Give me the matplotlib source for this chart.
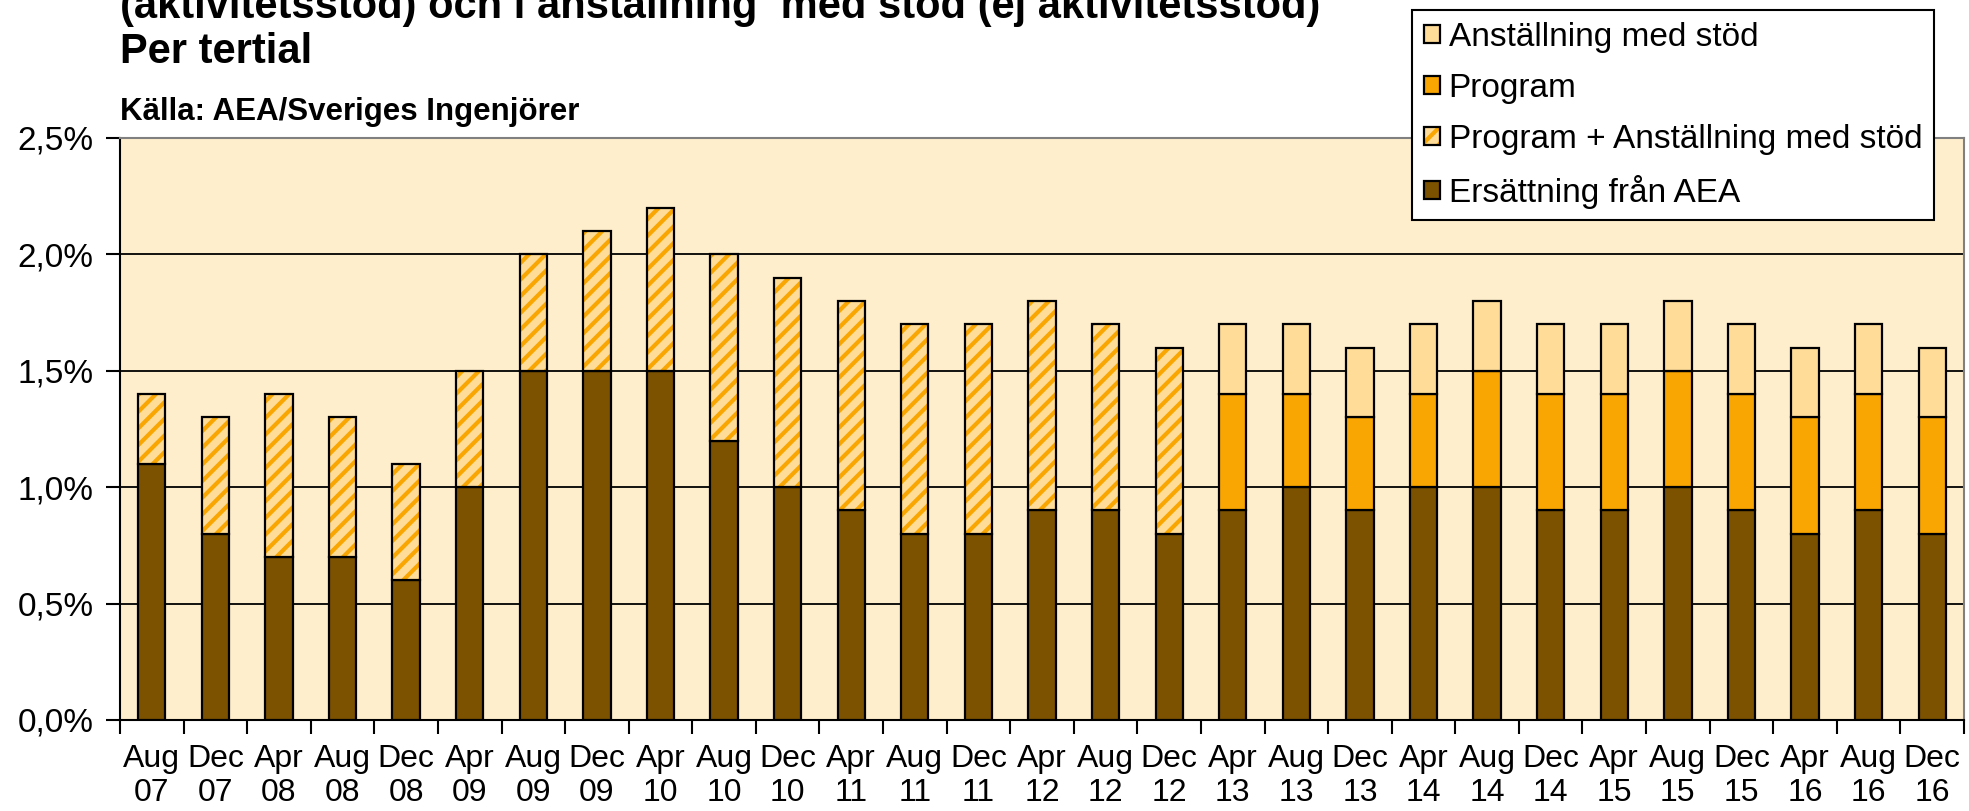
import numpy as np
import matplotlib.pyplot as plt

plt.rcParams['font.family'] = ['Liberation Sans', 'DejaVu Sans']
plt.rcParams['hatch.linewidth'] = 3.0

# Data (andel, %)
Perioder = ['Aug\n07', 'Dec\n07', 'Apr\n08', 'Aug\n08', 'Dec\n08', 'Apr\n09', 'Aug\n09', 'Dec\n09',
            'Apr\n10', 'Aug\n10', 'Dec\n10', 'Apr\n11', 'Aug\n11', 'Dec\n11', 'Apr\n12', 'Aug\n12',
            'Dec\n12', 'Apr\n13', 'Aug\n13', 'Dec\n13', 'Apr\n14', 'Aug\n14', 'Dec\n14', 'Apr\n15',
            'Aug\n15', 'Dec\n15', 'Apr\n16', 'Aug\n16', 'Dec\n16']
Ersattning_AEA = [1.1, 0.8, 0.7, 0.7, 0.6, 1.0, 1.5, 1.5, 1.5, 1.2, 1.0, 0.9, 0.8, 0.8, 0.9, 0.9,
                  0.8, 0.9, 1.0, 0.9, 1.0, 1.0, 0.9, 0.9, 1.0, 0.9, 0.8, 0.9, 0.8]
# Program + Anställning med stöd (Aug 07 - Dec 12)
Program_Anst = [0.3, 0.5, 0.7, 0.6, 0.5, 0.5, 0.5, 0.6, 0.7, 0.8, 0.9, 0.9, 0.9, 0.9, 0.9, 0.8, 0.8]
# Separata serier (Apr 13 - Dec 16)
Program = [0.5, 0.4, 0.4, 0.4, 0.5, 0.5, 0.5, 0.5, 0.5, 0.5, 0.5, 0.5]
Anstallning = [0.3, 0.3, 0.3, 0.3, 0.3, 0.3, 0.3, 0.3, 0.3, 0.3, 0.3, 0.3]

YTicks = [0.0, 0.5, 1.0, 1.5, 2.0, 2.5]
YLabels = ['0,0%', '0,5%', '1,0%', '1,5%', '2,0%', '2,5%']

C_AEA = '#7C5200'
C_Prog = '#F9A602'
C_Anst = '#FFDD99'
C_Bg = '#FFEECC'

# Positions
N = len(Perioder)
X = np.arange(N)
N1 = len(Program_Anst)
X1 = X[:N1]
X2 = X[N1:]
AEA = np.array(Ersattning_AEA)
Width = 0.43

Figure = plt.figure(figsize=(19.69, 8.11), dpi=100)
Axes = Figure.add_axes([120/1969, 1-720/811, (1964-120)/1969, (720-138)/811])
Axes.set_facecolor(C_Bg)

# Bars
Bar_AEA = Axes.bar(X, AEA, Width, color=C_AEA, edgecolor='black', linewidth=1.6, zorder=3)
Bar_Hatch = Axes.bar(X1, Program_Anst, Width, bottom=AEA[:N1], color=C_Anst, edgecolor=C_Prog,
                     hatch='//', linewidth=0, zorder=3)
Bar_HatchEdge = Axes.bar(X1, Program_Anst, Width, bottom=AEA[:N1], facecolor='none',
                         edgecolor='black', linewidth=1.6, zorder=4)
Bar_Prog = Axes.bar(X2, Program, Width, bottom=AEA[N1:], color=C_Prog, edgecolor='black',
                    linewidth=1.6, zorder=3)
Bar_Anst = Axes.bar(X2, Anstallning, Width, bottom=AEA[N1:] + np.array(Program), color=C_Anst,
                    edgecolor='black', linewidth=1.6, zorder=3)

# Axes
Axes.set_xlim(-0.5, N - 0.5)
Axes.set_ylim(0, 2.5)
Axes.set_yticks(YTicks)
Axes.set_yticklabels(YLabels)
Axes.yaxis.grid(True, color='black', linewidth=1.3, zorder=1)
Axes.set_axisbelow(True)
Axes.tick_params(axis='y', length=10, width=1.5, pad=9, labelsize=24)
Axes.set_xticks(X)
Axes.set_xticklabels(Perioder, linespacing=1.2)
Axes.set_xticks(np.arange(N + 1) - 0.5, minor=True)
Axes.tick_params(axis='x', which='major', length=0, pad=17, labelsize=23)
Axes.tick_params(axis='x', which='minor', length=10, width=1.5)
for s in ['left', 'bottom']:
    Axes.spines[s].set_color('black')
    Axes.spines[s].set_linewidth(1.5)
for s in ['top', 'right']:
    Axes.spines[s].set_color('#808080')
    Axes.spines[s].set_linewidth(1.5)

# Titles
Figure.text(120/1969, 1-18/811, '(aktivitetsstöd) och i anställning  med stöd (ej aktivitetsstöd)',
            fontsize=30, fontweight='bold', va='baseline', ha='left')
Figure.text(120/1969, 1-63/811, 'Per tertial', fontsize=30, fontweight='bold', va='baseline', ha='left')
Figure.text(120/1969, 1-120/811, 'Källa: AEA/Sveriges Ingenjörer', fontsize=22.5, fontweight='bold',
            va='baseline', ha='left')

# Legend
Legend = Figure.legend([Bar_Anst, Bar_Prog, (Bar_Hatch, Bar_HatchEdge), Bar_AEA],
                       ['Anställning med stöd', 'Program', 'Program + Anställning med stöd', 'Ersättning från AEA'],
                       loc='upper right', bbox_to_anchor=(1934/1969, 1-10/811), fontsize=24,
                       fancybox=False, framealpha=1, edgecolor='black', handlelength=0.48,
                       handleheight=0.48, handletextpad=0.27, labelspacing=0.6, borderpad=0.35,
                       borderaxespad=0)
Legend.get_frame().set_linewidth(1.5)
Legend.set_zorder(10)

plt.savefig('out.png', dpi=100)
plt.close(Figure)
